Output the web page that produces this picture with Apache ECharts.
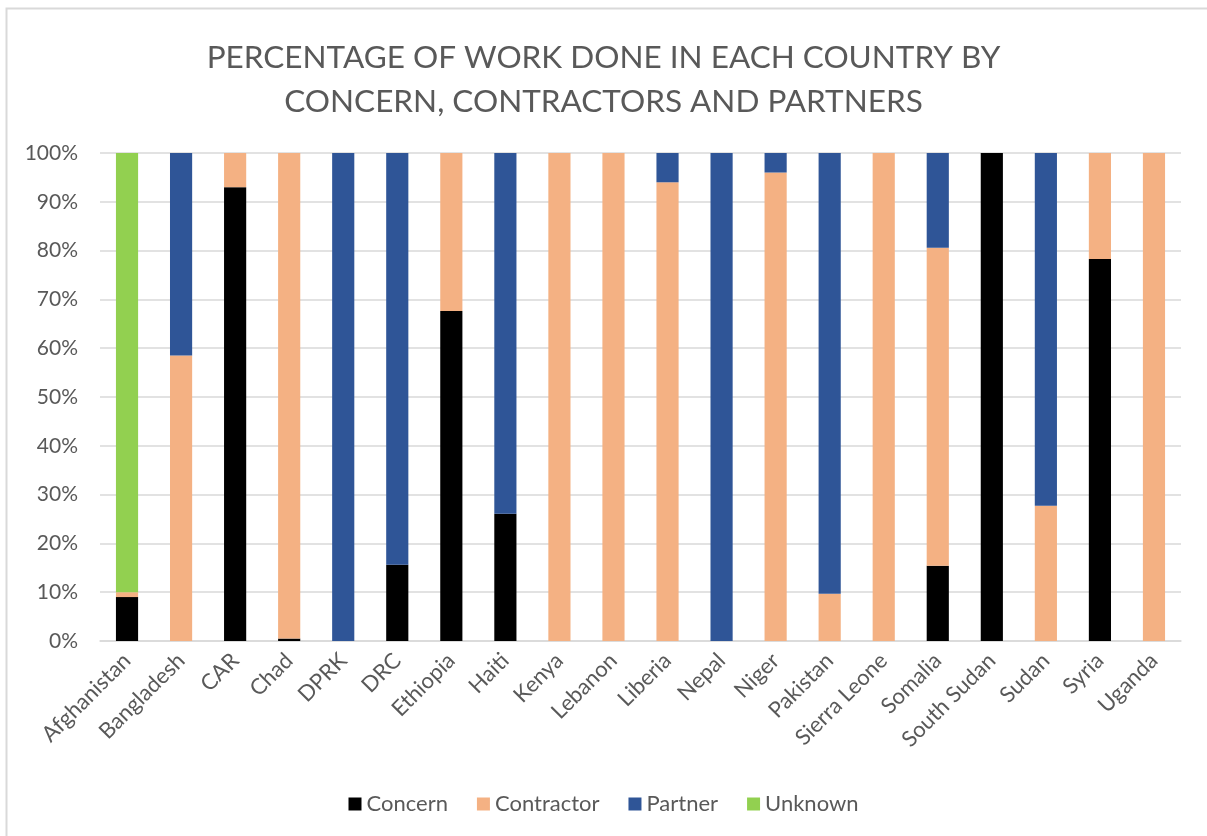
<!DOCTYPE html>
<html>
<head>
<meta charset="utf-8">
<script src="https://cdn.jsdelivr.net/npm/echarts@6/dist/echarts.min.js"></script>
<style>
html,body{margin:0;padding:0;background:#fff;}
#chart{width:1207px;height:836px;}
</style>
</head>
<body>
<div id="chart"></div>
<script>
const titleText = 'PERCENTAGE OF WORK DONE IN EACH COUNTRY BY\nCONCERN, CONTRACTORS AND PARTNERS';
const categories = ['Afghanistan','Bangladesh','CAR','Chad','DPRK','DRC','Ethiopia','Haiti','Kenya','Lebanon','Liberia','Nepal','Niger','Pakistan','Sierra Leone','Somalia','South Sudan','Sudan','Syria','Uganda'];
const concern    = [9,   0,    93, 0.5, 0,   15.6, 67.6, 26.1, 0,   0,   0,  0,   0,  0,    0,   15.4, 100, 0,    78.3, 0];
const contractor = [1,   58.5, 7,  99.5,0,   0,    32.4, 0,    100, 100, 94, 0,   96, 9.7,  100, 65.2, 0,   27.7, 21.7, 100];
const partner    = [0,   41.5, 0,  0,   100, 84.4, 0,    73.9, 0,   0,   6,  100, 4,  90.3, 0,   19.4, 0,   72.3, 0,    0];
const unknown    = [90,  0,    0,  0,   0,   0,    0,    0,    0,   0,   0,  0,   0,  0,    0,   0,    0,   0,    0,    0];
const seriesNames = ['Concern','Contractor','Partner','Unknown'];
const seriesColors = ['#000000','#F4B183','#2F5597','#92D050'];
const yTicks = [0,10,20,30,40,50,60,70,80,90,100];

const font = 'Lato, "Open Sans", sans-serif';
const chart = echarts.init(document.getElementById('chart'), null, {renderer:'canvas'});
const data = [concern, contractor, partner, unknown];
chart.setOption({
  animation:false,
  backgroundColor:'#ffffff',
  graphic:[{type:'rect', shape:{x:6.5,y:8.5,width:1220,height:850}, style:{fill:'none',stroke:'#d9d9d9',lineWidth:2}, silent:true}],
  title:{text:titleText, left:'center', top:31, textStyle:{fontFamily:font, fontSize:31.5, fontWeight:'normal', color:'#595959', lineHeight:44}},
  legend:{bottom:16, left:'center', itemWidth:13, itemHeight:13, itemGap:29, icon:'rect',
    textStyle:{fontFamily:font, fontSize:22, color:'#595959'}, data:seriesNames},
  grid:{left:100, right:26, top:153, bottom:195, containLabel:false},
  xAxis:{type:'category', data:categories,
    axisLine:{show:true, lineStyle:{color:'#d9d9d9', width:1.5}}, axisTick:{show:false},
    axisLabel:{rotate:45, interval:0, fontFamily:font, fontSize:22, color:'#595959', margin:16}},
  yAxis:{type:'value', min:0, max:100, interval:10,
    axisLine:{show:false}, axisTick:{show:false},
    splitLine:{lineStyle:{color:'#d9d9d9', width:1.5}},
    axisLabel:{formatter:v=>v+'%', fontFamily:font, fontSize:21, color:'#595959', margin:22}},
  series: seriesNames.map((n,i)=>({name:n, type:'bar', stack:'total', barWidth:'41%', data:data[i], itemStyle:{color:seriesColors[i]}}))
});
</script>
</body>
</html>
